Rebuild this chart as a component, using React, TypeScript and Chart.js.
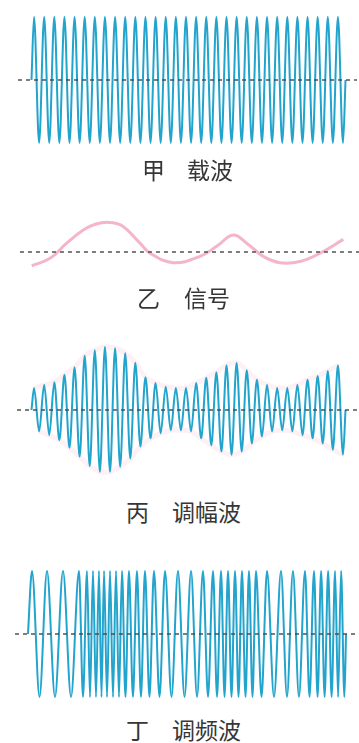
import React, { useEffect, useRef } from "react";
import { Chart, registerables } from "chart.js";

Chart.register(...registerables);

// ---- Data (time in carrier periods, amplitude in carrier amplitudes) ----
const carrierAmplitude = [
  1, 1, 1, 1, 1, 1, 1, 1, 1, 1, 1, 1, 1, 1, 1, 1,
  1, 1, 1, 1, 1, 1, 1, 1, 1, 1, 1, 1, 1, 1, 1,
];

const signalTimes = [
  0.02, 1.83, 3.47, 5.11, 6.3, 7.6, 8.9, 10.71, 11.7, 14.0, 16.63, 18.28,
  19.92, 21.24, 22.88, 24.53, 26.5, 28.47, 30.78,
];
const signalValues = [
  -0.22, -0.1, 0.14, 0.35, 0.44, 0.47, 0.42, 0.14, -0.02, -0.17, -0.07, 0.09,
  0.27, 0.14, -0.07, -0.17, -0.15, -0.02, 0.2,
];

const amPeaks = [
  0.35, 0.4, 0.44, 0.56, 0.68, 0.86, 0.95, 1.0, 0.98, 0.9, 0.75, 0.52, 0.43,
  0.37, 0.35, 0.35, 0.43, 0.51, 0.6, 0.71, 0.75, 0.63, 0.48, 0.4, 0.35, 0.35,
  0.4, 0.48, 0.54, 0.62, 0.71,
];
const amTroughs = [
  0.34, 0.4, 0.48, 0.6, 0.74, 0.89, 0.98, 0.98, 0.9, 0.77, 0.58, 0.45, 0.37,
  0.32, 0.32, 0.34, 0.45, 0.56, 0.66, 0.71, 0.66, 0.53, 0.42, 0.34, 0.32, 0.34,
  0.4, 0.45, 0.53, 0.63, 0.71,
];

const fmPeakTimes = [
  0.05, 1.53, 3.11, 4.69, 5.48, 6.07, 6.66, 7.16, 7.75, 8.34, 8.93, 9.62,
  10.41, 11.2, 12.09, 13.18, 14.46, 15.75, 16.93, 17.92, 18.71, 19.4, 20.09,
  20.78, 21.47, 22.16, 23.25, 24.63, 25.81, 27.0, 27.89, 28.59, 29.28, 29.97,
  30.56,
];
const fmStart = -0.35;
const fmEnd = 31.05;

const prefixes = ["甲", "乙", "丙", "丁"];
const names = ["载波", "信号", "调幅波", "调频波"];
const axisStarts = [-1.33, -1.14, -1.43, -1.63];
const axisEnds = [32.13, 32.33, 32.13, 32.13];

// ---- Layout / style ----
const W = 359;
const PANEL_H = 150;
const X_MIN = -3.11;
const X_MAX = 32.33;
const Y_HALF = 75 / 63;
const WAVE = "#22a4cc";
const PINK = "rgba(240,150,178,0.7)";

type P = { x: number; y: number };

function uniformWave(up: number[], down: number[]): P[] {
  const pts: P[] = [{ x: 0, y: 0 }];
  for (let i = 0; i < up.length; i++) {
    pts.push({ x: i + 0.25, y: up[i] });
    pts.push({ x: i + 0.75, y: -down[i] });
  }
  pts.push({ x: up.length, y: 0 });
  return pts;
}

function fmWave(peaks: number[], start: number, end: number): P[] {
  const pts: P[] = [{ x: start, y: 0 }];
  for (let i = 0; i < peaks.length; i++) {
    pts.push({ x: peaks[i], y: 1 });
    const tr =
      i < peaks.length - 1
        ? (peaks[i] + peaks[i + 1]) / 2
        : peaks[i] + ((end - peaks[i]) * 2) / 3;
    pts.push({ x: tr, y: -1 });
  }
  pts.push({ x: end, y: 0 });
  return pts;
}

function axisLine(i: number) {
  return {
    data: [
      { x: axisStarts[i], y: 0 },
      { x: axisEnds[i], y: 0 },
    ],
    borderColor: "#474747",
    borderWidth: 1.4,
    borderDash: [4, 4],
    pointRadius: 0,
    order: 0,
  };
}

function waveSet(data: P[], color: string, width: number, order: number, smooth = false) {
  return smooth
    ? { data, borderColor: color, borderWidth: width, tension: 0.4, pointRadius: 0, fill: false, order }
    : {
        data,
        borderColor: color,
        borderWidth: width,
        cubicInterpolationMode: "monotone" as const,
        pointRadius: 0,
        fill: false,
        order,
      };
}

function WavePanel({ top, datasets }: { top: number; datasets: any[] }) {
  const ref = useRef<HTMLCanvasElement | null>(null);
  useEffect(() => {
    if (!ref.current) return;
    const chart = new Chart(ref.current, {
      type: "line",
      data: { datasets },
      options: {
        animation: false,
        responsive: false,
        maintainAspectRatio: false,
        events: [],
        layout: { padding: 0 },
        plugins: {
          legend: { display: false },
          tooltip: { enabled: false },
          title: { display: false },
        },
        scales: {
          x: { type: "linear", display: false, min: X_MIN, max: X_MAX },
          y: { type: "linear", display: false, min: -Y_HALF, max: Y_HALF },
        },
      },
    } as any);
    return () => chart.destroy();
  }, []);
  return (
    <canvas
      ref={ref}
      width={W}
      height={PANEL_H}
      style={{
        position: "absolute",
        left: 0,
        top,
        width: W,
        height: PANEL_H,
      }}
    />
  );
}

const labelStyle: React.CSSProperties = {
  position: "absolute",
  fontFamily: '"Noto Sans CJK SC", "Noto Sans", sans-serif',
  fontSize: 23,
  lineHeight: "24px",
  color: "#363636",
  whiteSpace: "nowrap",
};

function Label({ i, top, x1, x2 }: { i: number; top: number; x1: number; x2: number }) {
  return (
    <>
      <span style={{ ...labelStyle, top, left: x1 }}>{prefixes[i]}</span>
      <span style={{ ...labelStyle, top, left: x2 }}>{names[i]}</span>
    </>
  );
}

export default function App() {
  const carrier = uniformWave(carrierAmplitude, carrierAmplitude);
  const signal = signalTimes.map((t, k) => ({ x: t, y: signalValues[k] }));
  const am = uniformWave(amPeaks, amTroughs);
  const amUpper = amPeaks.map((a, k) => ({ x: k + 0.25, y: a }));
  const amLower = amTroughs.map((a, k) => ({ x: k + 0.75, y: -a }));
  const fm = fmWave(fmPeakTimes, fmStart, fmEnd);

  return (
    <div
      style={{
        position: "absolute",
        left: 0,
        top: 0,
        width: W,
        height: 743,
        background: "#ffffff",
        overflow: "hidden",
      }}
    >
      <WavePanel top={5} datasets={[axisLine(0), waveSet(carrier, WAVE, 2, 1)]} />
      <WavePanel top={177} datasets={[axisLine(1), waveSet(signal, PINK, 3, 1, true)]} />
      <WavePanel
        top={335}
        datasets={[
          axisLine(2),
          waveSet(am, WAVE, 2, 1),
          waveSet(amUpper, "rgba(240,150,175,0.13)", 5, 2, true),
          waveSet(amLower, "rgba(240,150,175,0.13)", 5, 2, true),
        ]}
      />
      <WavePanel top={559} datasets={[axisLine(3), waveSet(fm, WAVE, 2, 1)]} />
      <Label i={0} top={157} x1={142} x2={187} />
      <Label i={1} top={285} x1={137} x2={184} />
      <Label i={2} top={499} x1={126} x2={172} />
      <Label i={3} top={717} x1={126} x2={172} />
    </div>
  );
}
